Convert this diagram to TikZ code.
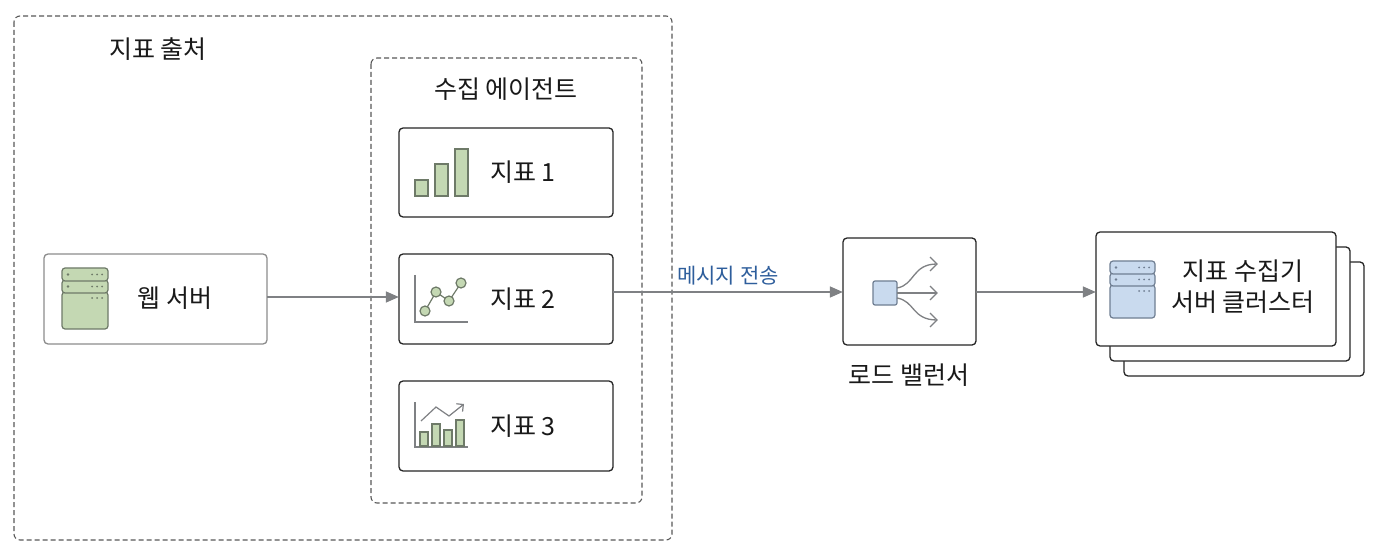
\documentclass[tikz,border=0pt]{standalone}
\usepackage{fontspec}
\setmainfont{Noto Sans CJK KR}
\usetikzlibrary{arrows.meta}
\definecolor{gfill}{HTML}{C4D8B3}
\definecolor{gline}{HTML}{6E7A68}
\definecolor{bfill}{HTML}{C9DAEE}
\definecolor{bline}{HTML}{6F7E92}
\definecolor{agray}{HTML}{7F8184}
\definecolor{lblue}{HTML}{2E5E9C}
\tikzset{
  px/.style={x=1pt,y=-1pt},
  grp/.style={draw=black!65,dashed,line width=1.1pt,rounded corners=6pt,dash pattern=on 5pt off 3pt},
  card/.style={draw=black!85,line width=1.3pt,rounded corners=4pt,fill=white},
  softcard/.style={draw=black!45,line width=1.3pt,rounded corners=4pt,fill=white},
  flow/.style={draw=agray,line width=1.6pt,-{Triangle[length=13pt,width=11pt]}},
  txt/.style={font=\fontsize{25}{31}\selectfont,text=black!90},
  gic/.style={draw=gline,fill=gfill,line width=1.2pt},
  bic/.style={draw=bline,fill=bfill,line width=1.2pt},
}
\begin{document}
\begin{tikzpicture}[px]
\useasboundingbox (0,0) rectangle (1382,556);
\fill[white] (0,0) rectangle (1382,556);
% groups
\draw[grp] (14,16) rectangle (672,540);
\node[txt] (t1) at (158,49) {지표 출처};
\draw[grp] (371,58) rectangle (642,503);
\node[txt] (t2) at (506,89) {수집 에이전트};
% metric cards
\draw[card] (399,128) rectangle (613,217);
\node[minimum width=214pt,minimum height=89pt] (m1) at (506,172.5) {};
\draw[card] (399,254) rectangle (613,344);
\node[minimum width=214pt,minimum height=90pt] (m2) at (506,299) {};
\draw[card] (399,381) rectangle (613,471);
\node[minimum width=214pt,minimum height=90pt] (m3) at (506,426) {};
\node[txt] at (523,172) {지표 1};
\node[txt] at (523,299) {지표 2};
\node[txt] at (523,426) {지표 3};
% icon 1: bars
\draw[gic] (415,180) rectangle (428,196);
\draw[gic] (435,164) rectangle (448,196);
\draw[gic] (455,149) rectangle (468,196);
% icon 2: scatter line
\draw[agray,line width=1.2pt] (415,275) -- (415,322) -- (468,322);
\draw[gline,line width=1.2pt] (425,311) -- (436,292) -- (449,301) -- (461,283);
\foreach \p in {(425,311),(436,292),(449,301),(461,283)} \draw[gic] \p circle (5pt);
% icon 3: bars with trend
\draw[agray,line width=1.2pt] (415,402) -- (415,447) -- (468,447);
\draw[gic] (420,432) rectangle (428,446);
\draw[gic] (432,424) rectangle (440,446);
\draw[gic] (444,430) rectangle (452,446);
\draw[gic] (456,420) rectangle (464,446);
\draw[agray,line width=1.2pt,-{Straight Barb[length=5pt]}] (421,421) -- (436,407) -- (449,416) -- (464,404);
% web server
\draw[softcard] (44,254) rectangle (267,344);
\node[minimum width=223pt,minimum height=90pt] (ws) at (155.5,299) {};
\node[txt] at (175,298) {웹 서버};
\draw[gic,rounded corners=3pt] (62,292) rectangle (108,329);
\draw[gic,rounded corners=3pt] (62,280) rectangle (108,293);
\draw[gic,rounded corners=3pt] (62,268) rectangle (108,281);
\foreach \yy in {274.5,286.5}{\fill[gline] (68,\yy) circle (1.3pt);
  \foreach \xx in {92,97,102} \fill[gline] (\xx,\yy) circle (1pt);}
\foreach \xx in {92,97,102} \fill[gline] (\xx,298) circle (1pt);
% load balancer
\draw[card] (843,238) rectangle (976,345);
\node[minimum width=133pt,minimum height=107pt] (lb) at (909.5,291.5) {};
\node[txt] at (909,375) {로드 밸런서};
\draw[bic,rounded corners=2pt] (873,281) rectangle (897,305);
\draw[agray,line width=1.3pt] (897,288) .. controls (915,285) and (912,264) .. (937,264);
\draw[agray,line width=1.3pt] (897,293) -- (937,293);
\draw[agray,line width=1.3pt] (897,298) .. controls (915,301) and (912,320) .. (937,320);
\foreach \yy in {264,293,320} \draw[agray,line width=1.3pt] (930,\yy-7) -- (937,\yy) -- (930,\yy+7);
% cluster
\draw[card] (1124,262) rectangle (1364,376);
\draw[card] (1110,247) rectangle (1350,361);
\draw[card] (1096,232) rectangle (1336,346);
\node[minimum width=240pt,minimum height=114pt] (cl) at (1216,289) {};
\node[txt,align=center] at (1243,287) {지표 수집기\\서버 클러스터};
\draw[bic,rounded corners=3pt] (1110,285) rectangle (1155,318);
\draw[bic,rounded corners=3pt] (1110,273) rectangle (1155,286);
\draw[bic,rounded corners=3pt] (1110,261) rectangle (1155,274);
\foreach \yy in {267.5,279.5}{\fill[bline] (1116,\yy) circle (1.3pt);
  \foreach \xx in {1139,1144,1149} \fill[bline] (\xx,\yy) circle (1pt);}
\foreach \xx in {1139,1144,1149} \fill[bline] (\xx,291) circle (1pt);
% connectors
\draw[flow] (ws.east|-0,297) -- (m2.west|-0,297);
\draw[flow] (m2.east|-0,292) -- node[above=3pt,font=\fontsize{21}{24}\selectfont,text=lblue,pos=0.5] {메시지 전송} (lb.west|-0,292);
\draw[flow] (lb.east|-0,292) -- (cl.west|-0,292);
\end{tikzpicture}
\end{document}
